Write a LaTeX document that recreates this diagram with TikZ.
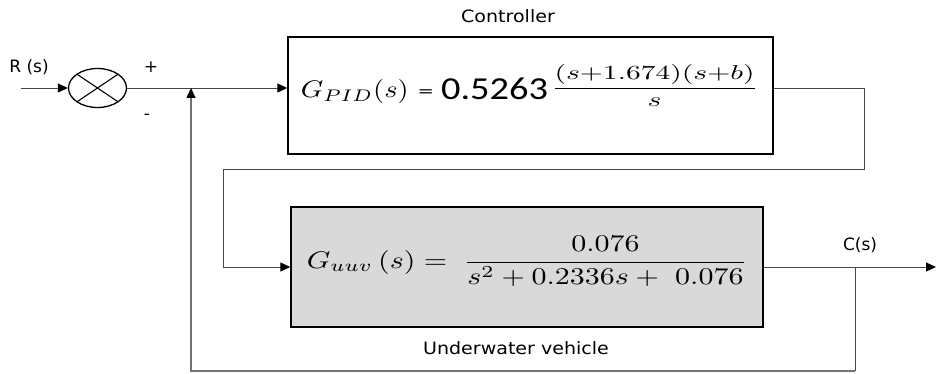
\documentclass[tikz,border=0pt]{standalone}
\usepackage{amsmath}
\usepackage[no-math]{fontspec}
\usepackage{graphicx}
\setmainfont{DejaVu Sans}
\newfontfamily\carlito{Carlito}
\usetikzlibrary{arrows.meta,shapes.geometric}
\newcommand\wx[2]{\scalebox{#1}[1]{#2}}
\begin{document}
\begin{tikzpicture}[x=1pt,y=-1pt,
  conn/.style={draw=black!72, line width=0.9pt},
  fbline/.style={draw=black!55, line width=1.3pt},
  arr/.style={-{Triangle[length=10pt,width=9pt,color=black]}},
  blockbox/.style={draw=black, line width=1.4pt, inner sep=0pt},
  lbl/.style={font=\fontsize{17}{20}\selectfont, inner sep=0pt},
  sumjunc/.style={draw=black, line width=1.3pt, ellipse, inner sep=0pt, minimum width=58pt, minimum height=39pt}]
\useasboundingbox (0,0) rectangle (936,374);

% blocks
\node[blockbox, minimum width=485pt, minimum height=117pt] (ctrl) at (530.5,95.5) {};
\node[blockbox, fill=black!15, minimum width=472pt, minimum height=120pt] (plant) at (527,267) {};
\node[sumjunc] (sum) at (97.5,88) {};
\draw[line width=1.1pt] ([shift={(-20.5,-13.8)}]sum.center) -- ([shift={(20.5,13.8)}]sum.center);
\draw[line width=1.1pt] ([shift={(-20.5,13.8)}]sum.center) -- ([shift={(20.5,-13.8)}]sum.center);

% formulas
\node[anchor=base, inner sep=0pt] (pidf) at (529.5,93) {%
  \raisebox{-5pt}{\scalebox{2.85}[2.4]{$G_{PID}(s)$}}\hspace{9pt}%
  \raisebox{-3.5pt}{\fontsize{15}{18}\selectfont\wx{1.3}{=}}\hspace{7pt}%
  \raisebox{-7pt}{\wx{1.2}{\carlito\fontsize{32}{36}\selectfont 0.5263}}\hspace{3pt}%
  \scalebox{2.96}[2.0]{$\dfrac{(s{+}1.674)(s{+}b)}{s}$}};
\node[anchor=base, inner sep=0pt] (uuvf) at (527,268) {%
  \scalebox{3.0}[2.4]{$G_{uuv}\,(s) = \;\dfrac{0.076}{s^2+0.2336s+\ 0.076}$}};

% labels
\node[lbl] (rs) at (29,67) {R (s)};
\node[lbl] (plus) at (151,67) {+};
\node[lbl] (minus) at (147,117) {-};
\node[lbl] (cs) at (860,245) {C(s)};
\node[lbl] (ctl) at (508,16) {\wx{1.12}{Controller}};
\node[lbl] (uv) at (516,348) {\wx{1.12}{Underwater vehicle}};

% coordinates
\coordinate (in) at (21,88);
\coordinate (c1) at (864,88);
\coordinate (c2) at (864,169);
\coordinate (c3) at (223,169);
\coordinate (out) at (936,267);
\coordinate (br) at (855,267);
\coordinate (fb) at (855,371);
\coordinate (fbl) at (191,371);

% connectors
\draw[conn,arr] (in) -- (sum.west);
\draw[conn,arr] (sum.east) -- (sum.east -| ctrl.west);
\draw[conn,arr] (ctrl.east |- c1) -- (c1) -- (c2) -- (c3) -- (c3 |- plant.west) -- (plant.west);
\draw[conn,arr] (plant.east) -- (out);
\draw[conn] (br) -- (fb);
\draw[fbline,arr] (fb) -- (fbl) -- (fbl |- sum.east);
\end{tikzpicture}
\end{document}
